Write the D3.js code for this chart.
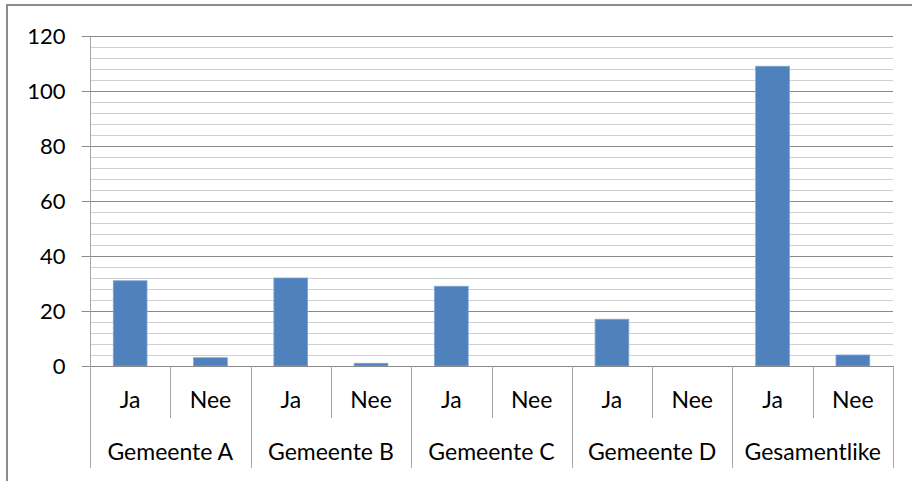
<!DOCTYPE html>
<html>
<head>
<meta charset="utf-8">
<script src="https://cdn.jsdelivr.net/npm/d3@7"></script>
<style>
  body { margin: 0; background: #fff; }
  svg { display: block; }
  text { font-family: Lato, "Open Sans", sans-serif; fill: #000; }
</style>
</head>
<body>
<div id="chart"></div>
<script>
// data
const groups = ['Gemeente A', 'Gemeente B', 'Gemeente C', 'Gemeente D', 'Gesamentlike'];
const answers = ['Ja', 'Nee'];
const jaValues = [31, 32, 29, 17, 109];
const neeValues = [3, 1, 0, 0, 4];
const yTicks = [0, 20, 40, 60, 80, 100, 120];

const width = 912, height = 481;
const margin = { top: 36, right: 19, bottom: 115, left: 90 };

const rows = [];
groups.forEach((g, i) => {
  rows.push({ key: g + '|Ja', group: g, answer: 'Ja', value: jaValues[i] });
  rows.push({ key: g + '|Nee', group: g, answer: 'Nee', value: neeValues[i] });
});

const svg = d3.select('#chart').append('svg')
  .attr('width', width)
  .attr('height', height);

// outer chart border (only left and top edges fall inside the picture)
svg.append('rect')
  .attr('x', 7).attr('y', 5)
  .attr('width', 940).attr('height', 520)
  .attr('fill', 'none')
  .attr('stroke', '#8c8c8c')
  .attr('stroke-width', 2);

const x = d3.scaleBand()
  .domain(rows.map(d => d.key))
  .range([margin.left, width - margin.right]);

const y = d3.scaleLinear()
  .domain([0, 120])
  .range([height - margin.bottom, margin.top]);

const plotBottom = y(0);

// minor gridlines every 4
const minor = d3.range(0, 121, 4).filter(v => v % 20 !== 0);
svg.append('g').selectAll('line')
  .data(minor)
  .join('line')
  .attr('x1', margin.left).attr('x2', width - margin.right)
  .attr('y1', d => Math.round(y(d)) + 0.5).attr('y2', d => Math.round(y(d)) + 0.5)
  .attr('stroke', '#d0d0d0');

// major gridlines
svg.append('g').selectAll('line')
  .data(yTicks.filter(v => v > 0))
  .join('line')
  .attr('x1', margin.left).attr('x2', width - margin.right)
  .attr('y1', d => Math.round(y(d)) + 0.5).attr('y2', d => Math.round(y(d)) + 0.5)
  .attr('stroke', '#8a8a8a');

// bars
svg.append('g').selectAll('rect')
  .data(rows.filter(d => d.value > 0))
  .join('rect')
  .attr('x', d => x(d.key) + x.bandwidth() * 0.29)
  .attr('width', x.bandwidth() * 0.42)
  .attr('y', d => y(d.value))
  .attr('height', d => plotBottom - y(d.value))
  .attr('fill', '#4f81bd')
  .attr('stroke', '#7fa3d1')
  .attr('stroke-width', 0.8);

// y axis
const yAxis = svg.append('g')
  .attr('transform', `translate(${margin.left + 0.5},0)`)
  .call(d3.axisLeft(y).tickValues(yTicks).tickSize(9).tickPadding(16));
yAxis.select('.domain').attr('stroke', '#a6a6a6').attr('d', `M0,${margin.top}V${plotBottom}`);
yAxis.selectAll('.tick line').attr('stroke', '#8a8a8a');
yAxis.selectAll('.tick text').attr('font-size', 22).attr('fill', '#000')
  .style('font-family', 'Lato, sans-serif');

// category axis baseline
svg.append('line')
  .attr('x1', margin.left).attr('x2', width - margin.right)
  .attr('y1', Math.round(plotBottom) + 0.5).attr('y2', Math.round(plotBottom) + 0.5)
  .attr('stroke', '#8a8a8a');

const cat = svg.append('g');
const innerBottom = plotBottom + 52;
const outerBottom = plotBottom + 102;

// separators between answers inside each group
cat.selectAll('line.inner')
  .data(groups)
  .join('line')
  .attr('class', 'inner')
  .attr('x1', g => Math.round(x(g + '|Nee')) + 0.5)
  .attr('x2', g => Math.round(x(g + '|Nee')) + 0.5)
  .attr('y1', plotBottom).attr('y2', innerBottom)
  .attr('stroke', '#a6a6a6');

// separators between groups (and outer edges)
const edges = groups.map(g => x(g + '|Ja')).concat([width - margin.right]);
cat.selectAll('line.outer')
  .data(edges)
  .join('line')
  .attr('class', 'outer')
  .attr('x1', d => Math.round(d) + 0.5).attr('x2', d => Math.round(d) + 0.5)
  .attr('y1', plotBottom).attr('y2', outerBottom)
  .attr('stroke', '#a6a6a6');

// answer labels
cat.selectAll('text.answer')
  .data(rows)
  .join('text')
  .attr('class', 'answer')
  .attr('x', d => x(d.key) + x.bandwidth() / 2)
  .attr('y', plotBottom + 42)
  .attr('text-anchor', 'middle')
  .attr('font-size', 23)
  .text(d => d.answer);

// group labels
cat.selectAll('text.group')
  .data(groups)
  .join('text')
  .attr('class', 'group')
  .attr('x', g => x(g + '|Ja') + x.bandwidth())
  .attr('y', plotBottom + 94)
  .attr('text-anchor', 'middle')
  .attr('font-size', 23)
  .text(g => g);
</script>
</body>
</html>
